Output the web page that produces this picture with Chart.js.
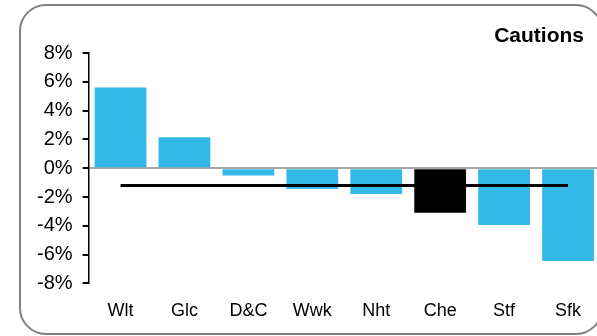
<!DOCTYPE html>
<html>
<head>
<meta charset="utf-8">
<script src="https://cdn.jsdelivr.net/npm/chart.js@4"></script>
<style>
  html, body { margin: 0; padding: 0; background: #fff; overflow: hidden; }
  body { width: 597px; height: 336px; position: relative; font-family: "Liberation Sans", Arial, sans-serif; }
  #marco { position: absolute; left: 19px; top: 4px; width: 584px; height: 331px; box-sizing: border-box;
           border: 2.5px solid #808080; border-radius: 27px; }
  #titulo { position: absolute; right: 13px; top: 23px; font-weight: bold; font-size: 21px; line-height: 24px; color: #000; }
  #grafico { position: absolute; left: 0; top: 0; }
</style>
</head>
<body>
<div id="marco"></div>
<canvas id="grafico" width="600" height="336"></canvas>
<div id="titulo">Cautions</div>
<script>
// Categorías y valores (%)
const categorias = ['Wlt', 'Glc', 'D&C', 'Wwk', 'Nht', 'Che', 'Stf', 'Sfk'];
const valores = [5.6, 2.15, -0.5, -1.45, -1.8, -3.1, -3.95, -6.45];
const promedio = [-1.2, -1.2, -1.2, -1.2, -1.2, -1.2, -1.2, -1.2];
const destacado = 'Che';

const azul = '#33b8e8';
const colores = categorias.map(c => c === destacado ? '#000000' : azul);

const ctx = document.getElementById('grafico').getContext('2d');
const grafico = new Chart(ctx, {
    type: 'bar',
    data: {
        labels: categorias,
        datasets: [{
            label: 'Promedio',
            type: 'line',
            data: promedio,
            borderColor: '#000',
            borderWidth: 3,
            pointRadius: 0,
            fill: false,
            order: 0
        }, {
            label: 'Cautions',
            data: valores,
            backgroundColor: colores,
            borderWidth: 0,
            barPercentage: 0.81,
            categoryPercentage: 1,
            order: 1
        }]
    },
    options: {
        responsive: false,
        animation: false,
        layout: { padding: { left: 27, top: 53, right: 0, bottom: 5 } },
        plugins: {
            legend: { display: false },
            tooltip: { enabled: false }
        },
        scales: {
            x: {
                grid: { display: false },
                border: { display: false },
                ticks: {
                    color: '#000',
                    padding: 9,
                    autoSkip: false,
                    maxRotation: 0,
                    font: { family: '"Liberation Sans", Arial', size: 18 }
                }
            },
            y: {
                min: -8,
                max: 8,
                ticks: {
                    stepSize: 2,
                    autoSkip: false,
                    color: '#000',
                    padding: 10,
                    font: { family: '"Liberation Sans", Arial', size: 20 },
                    callback: v => v + '%'
                },
                grid: {
                    color: c => c.tick && c.tick.value === 0 ? '#a6a6a6' : 'rgba(0,0,0,0)',
                    lineWidth: 2,
                    tickColor: '#000',
                    tickLength: 6
                },
                border: { display: true, color: '#000', width: 1.5 }
            }
        }
    }
});
</script>
</body>
</html>
